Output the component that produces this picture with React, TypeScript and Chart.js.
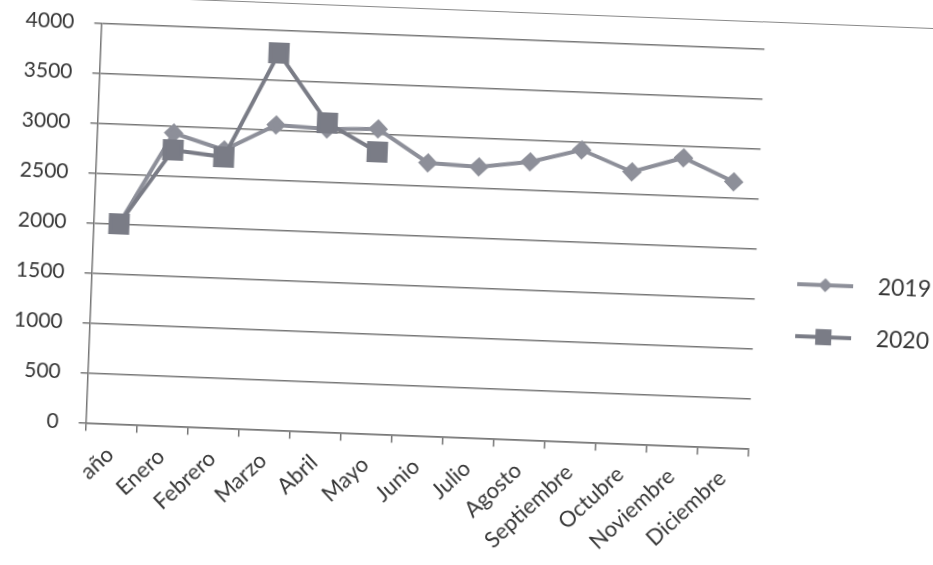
import React, { useEffect, useRef } from "react";
import { Chart, registerables } from "chart.js";

Chart.register(...registerables);

const categories = [
  "año",
  "Enero",
  "Febrero",
  "Marzo",
  "Abril",
  "Mayo",
  "Junio",
  "Julio",
  "Agosto",
  "Septiembre",
  "Octubre",
  "Noviembre",
  "Diciembre",
];

const values2019: (number | null)[] = [
  2000, 2930, 2780, 3050, 3030, 3050, 2730, 2710, 2780, 2920, 2720, 2880, 2660,
];

const values2020: (number | null)[] = [
  2000, 2760, 2710, 3770, 3090, 2820, null, null, null, null, null, null, null,
];

const seriesNames = ["2019", "2020"];

const yMin = 0;
const yMax = 4000;
const yStep = 500;

const color2019 = "#8d8f99";
const color2020 = "#7a7c86";
const gridColor = "#767676";
const textColor = "#383838";
const fontFamily = "Lato, 'Open Sans', sans-serif";

const CANVAS_W = 941;
const CANVAS_H = 565;

function makeLegendSample(kind: "diamond" | "square", color: string) {
  const c = document.createElement("canvas");
  c.width = 56;
  c.height = 20;
  const g = c.getContext("2d")!;
  g.strokeStyle = color;
  g.lineWidth = 4;
  g.beginPath();
  g.moveTo(0, 10);
  g.lineTo(56, 10);
  g.stroke();
  g.fillStyle = color;
  g.beginPath();
  if (kind === "diamond") {
    g.moveTo(28, 3);
    g.lineTo(35, 10);
    g.lineTo(28, 17);
    g.lineTo(21, 10);
    g.closePath();
  } else {
    g.rect(20, 2, 16, 16);
  }
  g.fill();
  return c;
}

export default function App() {
  const ref = useRef<HTMLCanvasElement>(null);

  useEffect(() => {
    const canvas = ref.current;
    if (!canvas) return;
    const samples = [
      makeLegendSample("diamond", color2019),
      makeLegendSample("square", color2020),
    ];
    const chart = new Chart(canvas, {
      type: "line",
      data: {
        labels: categories,
        datasets: [
          {
            label: seriesNames[0],
            data: values2019,
            borderColor: color2019,
            backgroundColor: color2019,
            borderWidth: 4,
            pointStyle: "rectRot",
            pointRadius: 7,
            pointBackgroundColor: color2019,
            pointBorderColor: color2019,
            tension: 0,
            order: 1,
          },
          {
            label: seriesNames[1],
            data: values2020,
            borderColor: color2020,
            backgroundColor: color2020,
            borderWidth: 4,
            pointStyle: "rect",
            pointRadius: 12,
            pointBackgroundColor: color2020,
            pointBorderColor: color2020,
            tension: 0,
            spanGaps: false,
            order: 0,
          },
        ],
      },
      options: {
        responsive: false,
        animation: false,
        devicePixelRatio: 1,
        layout: { padding: { top: 37.5, left: 0, right: 0, bottom: 8 } },
        plugins: {
          title: { display: false },
          tooltip: { enabled: false },
          legend: {
            display: true,
            position: "right",
            align: "center",
            labels: {
              usePointStyle: true,
              pointStyleWidth: 82,
              padding: 29,
              color: textColor,
              font: { family: fontFamily, size: 23 },
              sort: (a: any, b: any) => a.datasetIndex - b.datasetIndex,
              generateLabels: (ch: any) => {
                const items = (Chart.defaults.plugins.legend.labels as any).generateLabels(ch);
                items.forEach((it: any) => {
                  it.pointStyle = samples[it.datasetIndex];
                });
                return items;
              },
            },
          },
        },
        scales: {
          x: {
            type: "category",
            offset: true,
            afterFit: (s: any) => {
              s.height = 119.5;
            },
            grid: {
              offset: true,
              drawOnChartArea: false,
              drawTicks: true,
              tickLength: 8,
              color: gridColor,
              lineWidth: 1.5,
            },
            border: { display: true, color: gridColor, width: 1.5 },
            ticks: {
              autoSkip: false,
              maxRotation: 45,
              minRotation: 45,
              padding: 10,
              color: textColor,
              font: { family: fontFamily, size: 22 },
            },
          },
          y: {
            min: yMin,
            max: yMax,
            afterFit: (s: any) => {
              s.width = 91.5;
            },
            grid: {
              color: gridColor,
              lineWidth: 1.5,
              drawTicks: true,
              tickLength: 7,
            },
            border: { display: true, color: gridColor, width: 1.5 },
            ticks: {
              stepSize: yStep,
              padding: 20,
              color: textColor,
              font: { family: fontFamily, size: 21 },
              callback: (v: any) => String(v),
            },
          },
        },
      },
    } as any);
    return () => chart.destroy();
  }, []);

  return (
    <div
      style={{
        position: "fixed",
        left: 0,
        top: 0,
        width: 933,
        height: 565,
        overflow: "hidden",
        background: "#ffffff",
      }}
    >
      <div
        style={{
          position: "absolute",
          left: 0,
          top: 0,
          width: CANVAS_W,
          height: CANVAS_H,
          transform: "rotate(2.23deg)",
          transformOrigin: "466.5px 282.5px",
        }}
      >
        <div
          style={{
            position: "absolute",
            left: 150,
            top: 10,
            width: 900,
            borderTop: "1.5px solid #8a8a8a",
          }}
        />
        <canvas
          ref={ref}
          width={CANVAS_W}
          height={CANVAS_H}
          style={{ position: "absolute", left: 0, top: 0, width: CANVAS_W, height: CANVAS_H }}
        />
      </div>
    </div>
  );
}
